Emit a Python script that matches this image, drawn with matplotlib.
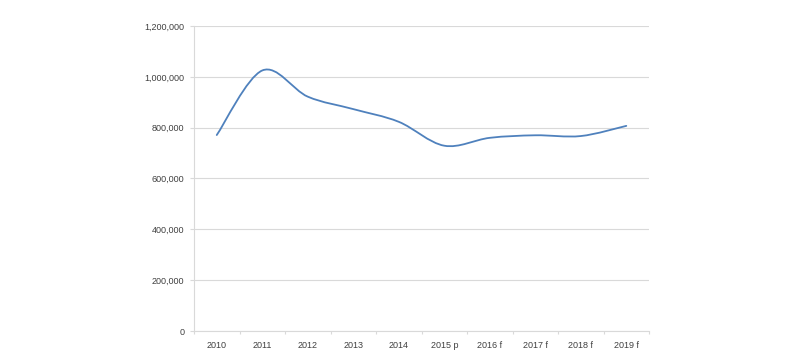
import matplotlib

matplotlib.use("Agg")
import matplotlib.pyplot as plt
import numpy as np
from matplotlib.path import Path
from matplotlib.patches import PathPatch
from matplotlib.ticker import FuncFormatter, MultipleLocator

categories = ["2010", "2011", "2012", "2013", "2014", "2015 p",
              "2016 f", "2017 f", "2018 f", "2019 f"]
values = [771000, 1025000, 922000, 873000, 823000, 729000,
          760000, 770000, 767000, 807000]

LINE_COLOR = "#4F81BD"
GRID_COLOR = "#D9D9D9"
TEXT_COLOR = "#404040"

plt.rcParams["font.family"] = ["Liberation Sans", "DejaVu Sans"]


def smooth_path(xs, ys):
    """Excel-style smoothed line: cubic Bezier segments through each point."""
    pts = np.column_stack([xs, ys]).astype(float)
    n = len(pts)
    verts = [pts[0]]
    codes = [Path.MOVETO]
    for i in range(n - 1):
        p0 = pts[i - 1] if i > 0 else pts[i]
        p1, p2 = pts[i], pts[i + 1]
        p3 = pts[i + 2] if i + 2 < n else pts[i + 1]
        c1 = p1 + (p2 - p0) / 6.0
        c2 = p2 - (p3 - p1) / 6.0
        verts += [c1, c2, p2]
        codes += [Path.CURVE4] * 3
    return Path(verts, codes)


fig = plt.figure(figsize=(8, 3.55), dpi=100)
ax = fig.add_axes([0.2425, 0.0676, 0.5688, 0.8592])

x = np.arange(len(categories))
ax.add_patch(PathPatch(smooth_path(x, values), facecolor="none",
                       edgecolor=LINE_COLOR, linewidth=1.3, capstyle="round"))

ax.set_xlim(-0.5, len(categories) - 0.5)
ax.set_ylim(0, 1200000)
ax.yaxis.set_major_locator(MultipleLocator(200000))
ax.yaxis.set_major_formatter(FuncFormatter(lambda v, _: f"{v:,.0f}"))
ax.set_xticks(x)
ax.set_xticklabels(categories)
ax.set_xticks(np.arange(-0.5, len(categories)), minor=True)

ax.grid(axis="y", color=GRID_COLOR, linewidth=0.8)
ax.set_axisbelow(True)
for side in ("top", "right"):
    ax.spines[side].set_visible(False)
for side in ("left", "bottom"):
    ax.spines[side].set_color(GRID_COLOR)
    ax.spines[side].set_linewidth(0.8)

ax.tick_params(axis="y", length=3, width=0.8, color=GRID_COLOR,
               labelsize=6.5, labelcolor=TEXT_COLOR, pad=4)
ax.tick_params(axis="x", which="major", length=0, labelsize=6.5,
               labelcolor=TEXT_COLOR, pad=7)
ax.tick_params(axis="x", which="minor", length=2.5, width=0.8, color=GRID_COLOR)

fig.savefig("out.png", dpi=100)
